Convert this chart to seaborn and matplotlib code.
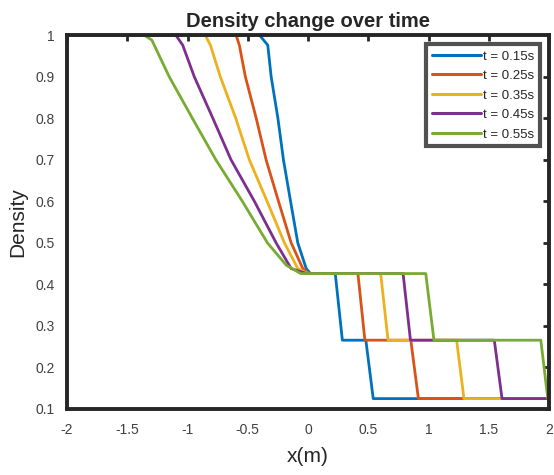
import matplotlib
matplotlib.use("Agg")
import matplotlib.pyplot as plt
import seaborn as sns
import pandas as pd

labels = ["t = 0.15s", "t = 0.25s", "t = 0.35s", "t = 0.45s", "t = 0.55s"]
colors = ["#0072BD", "#D95319", "#EDB120", "#7E2F8E", "#77AC30"]

y_common = [1, 1, 0.976, 0.9, 0.8, 0.7, 0.6, 0.5, 0.438, 0.426, 0.426, 0.2656, 0.2656, 0.125, 0.125]

x_t015 = [-2, -0.403, -0.334, -0.306, -0.25, -0.204, -0.145, -0.085, -0.015, 0.02, 0.226, 0.285, 0.480, 0.541, 2]
x_t025 = [-2, -0.597, -0.570, -0.520, -0.430, -0.348, -0.245, -0.140, -0.043, 0.01, 0.414, 0.472, 0.853, 0.916, 2]
x_t035 = [-2, -0.853, -0.810, -0.728, -0.600, -0.487, -0.340, -0.196, -0.085, 0.0, 0.603, 0.664, 1.233, 1.294, 2]
x_t045 = [-2, -1.097, -1.040, -0.944, -0.790, -0.639, -0.445, -0.265, -0.140, -0.01, 0.789, 0.850, 1.546, 1.610, 2]
x_t055 = [-2, -1.360, -1.296, -1.152, -0.960, -0.765, -0.545, -0.337, -0.180, -0.06, 0.977, 1.045, 1.932, 1.990, 2]
y_t055 = [1, 1, 0.988, 0.9, 0.8, 0.7, 0.6, 0.5, 0.446, 0.426, 0.426, 0.2656, 0.2656, 0.125, 0.125]

xticks = [-2, -1.5, -1, -0.5, 0, 0.5, 1, 1.5, 2]
xticklabels = ["-2", "-1.5", "-1", "-0.5", "0", "0.5", "1", "1.5", "2"]
yticks = [0.1, 0.2, 0.3, 0.4, 0.5, 0.6, 0.7, 0.8, 0.9, 1.0]
yticklabels = ["0.1", "0.2", "0.3", "0.4", "0.5", "0.6", "0.7", "0.8", "0.9", "1"]

series_x = [x_t015, x_t025, x_t035, x_t045, x_t055]
series_y = [y_common, y_common, y_common, y_common, y_t055]

rows = []
for lab, xs, ys in zip(labels, series_x, series_y):
    for i, (xv, yv) in enumerate(zip(xs, ys)):
        rows.append({"t": lab, "x": xv, "rho": yv, "order": i})
df = pd.DataFrame(rows)

sns.set_style("white")
plt.rcParams["font.family"] = ["Liberation Sans", "DejaVu Sans"]

fig = plt.figure(figsize=(5.54, 4.75), dpi=100)
ax = fig.add_axes([0.121, 0.139, 0.870, 0.787])

sns.lineplot(data=df, x="x", y="rho", hue="t", hue_order=labels, palette=colors,
             sort=False, estimator=None, units="t", linewidth=2.0, ax=ax)

ax.set_xlim(-2, 2)
ax.set_ylim(0.1, 1.0)
ax.set_xticks(xticks)
ax.set_xticklabels(xticklabels)
ax.set_yticks(yticks)
ax.set_yticklabels(yticklabels)
ax.tick_params(direction="in", length=4, width=2, top=True, right=True,
               labelsize=10, labelcolor="#404040", color="#262626")
ax.tick_params(axis="x", pad=10)
ax.tick_params(axis="y", pad=9)
for s in ax.spines.values():
    s.set_linewidth(2.8)
    s.set_color("#262626")
    s.set_visible(True)

ax.set_xlabel("x(m)", fontsize=15, color="#262626", labelpad=7)
ax.set_ylabel("Density", fontsize=15, color="#262626", labelpad=6)
ax.set_title("Density change over time", fontsize=14.5, fontweight="bold", pad=6)

leg = ax.legend(loc="upper right", fontsize=9.5, frameon=True, fancybox=False,
                handlelength=3.7, handletextpad=0.15, borderpad=0.45,
                labelspacing=0.55, borderaxespad=0.7)
leg.get_frame().set_edgecolor("#262626")
leg.get_frame().set_linewidth(3)
for line in leg.get_lines():
    line.set_linewidth(2.2)

fig.savefig("out.png", dpi=100)
